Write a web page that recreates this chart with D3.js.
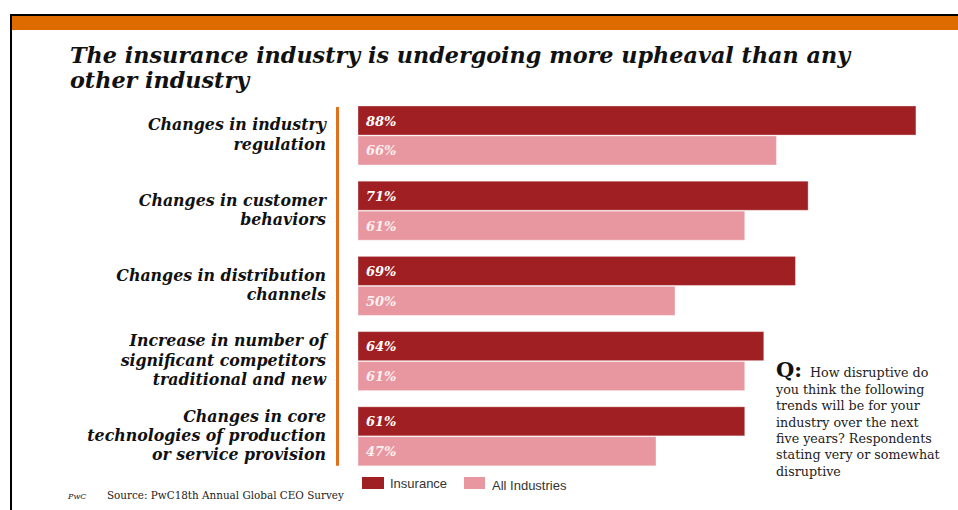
<!DOCTYPE html>
<html>
<head>
<meta charset="utf-8">
<script src="https://cdnjs.cloudflare.com/ajax/libs/d3/7.8.5/d3.min.js"></script>
<style>
  body { margin: 0; background: #fff; }
  svg { display: block; }
</style>
</head>
<body>
<div id="chart"></div>
<script>
// data
var categories = ["regulation", "customer", "distribution", "competitors", "technology"];
var categoryLines = [
    ["Changes in industry", "regulation"],
    ["Changes in customer", "behaviors"],
    ["Changes in distribution", "channels"],
    ["Increase in number of", "significant competitors", "traditional and new"],
    ["Changes in core", "technologies of production", "or service provision"]
];
var series = ["Insurance", "All Industries"];
var insurance = [88, 71, 69, 64, 61];
var allIndustries = [66, 61, 50, 61, 47];
var titleLines = ["The insurance industry is undergoing more upheaval than any", "other industry"];
var questionLines = ["you think the following", "trends will be for your", "industry over the next",
    "five years? Respondents", "stating very or somewhat", "disruptive"];

var width = 958;
var height = 510;
var colors = { "Insurance": "#a01f22", "All Industries": "#e897a0" };
var serif = "'DejaVu Serif', 'Liberation Serif', serif";

var svg = d3.select('#chart')
    .append('svg')
    .attr('width', width)
    .attr('height', height);

// frame: black rule, orange band, left edge
svg.append('rect').attr('x', 10).attr('y', 14).attr('width', width - 10).attr('height', 2).attr('fill', '#000');
svg.append('rect').attr('x', 12).attr('y', 16).attr('width', width - 12).attr('height', 14).attr('fill', '#dd6b00');
svg.append('rect').attr('x', 10).attr('y', 14).attr('width', 2).attr('height', height - 14).attr('fill', '#000');

// title
svg.append('g').selectAll('text')
    .data(titleLines)
    .enter()
    .append('text')
    .attr('x', 70)
    .attr('y', (d, i) => 63 + i * 25)
    .attr('font-family', serif)
    .attr('font-style', 'italic')
    .attr('font-weight', 'bold')
    .attr('font-size', 22.3)
    .attr('fill', '#111')
    .text(d => d);

var x = d3.scaleLinear()
    .domain([0, 100])
    .range([358, 992]);

var y = d3.scaleBand()
    .domain(categories)
    .range([106, 482]);

var ySub = d3.scaleBand()
    .domain(series)
    .range([0, 59])
    .paddingInner(0.03);

var rows = categories.map(function (c, i) {
    return { cat: c, lines: categoryLines[i], values: [
        { key: "Insurance", v: insurance[i] },
        { key: "All Industries", v: allIndustries[i] }
    ] };
});

// orange axis line
svg.append('line')
    .attr('x1', 337.5).attr('x2', 337.5)
    .attr('y1', y(categories[0]) + 1)
    .attr('y2', y(categories[categories.length - 1]) + 59)
    .attr('stroke', '#e0711d')
    .attr('stroke-width', 3);

var groups = svg.append('g').selectAll('g')
    .data(rows)
    .enter()
    .append('g')
    .attr('transform', d => "translate(0," + y(d.cat) + ")");

groups.selectAll('rect')
    .data(d => d.values)
    .enter()
    .append('rect')
    .attr('x', x(0))
    .attr('y', d => ySub(d.key))
    .attr('width', d => x(d.v) - x(0))
    .attr('height', ySub.bandwidth())
    .attr('fill', d => colors[d.key])
    .attr('stroke', 'rgba(255,255,255,0.35)')
    .attr('stroke-width', 1);

groups.selectAll('text.val')
    .data(d => d.values)
    .enter()
    .append('text')
    .attr('class', 'val')
    .attr('x', x(0) + 8)
    .attr('y', d => ySub(d.key) + ySub.bandwidth() / 2 + 5)
    .attr('font-family', serif)
    .attr('font-style', 'italic')
    .attr('font-weight', 'bold')
    .attr('font-size', 13)
    .attr('fill', d => d.key == "Insurance" ? '#fff' : '#fdf0f1')
    .text(d => d.v + "%");

// category labels
groups.each(function (d) {
    var n = d.lines.length;
    d3.select(this).selectAll('text.cat')
        .data(d.lines)
        .enter()
        .append('text')
        .attr('class', 'cat')
        .attr('x', 326)
        .attr('y', (t, i) => 29.5 + 4.5 + (i - (n - 1) / 2) * 19.3)
        .attr('text-anchor', 'end')
        .attr('font-family', serif)
        .attr('font-style', 'italic')
        .attr('font-weight', 'bold')
        .attr('font-size', 15.8)
        .attr('fill', '#111')
        .text(t => t);
});

// legend
var legend = svg.append('g').selectAll('g')
    .data(series)
    .enter()
    .append('g')
    .attr('transform', (d, i) => "translate(" + (i == 0 ? 362 : 464) + ",477)");
legend.append('rect')
    .attr('width', (d, i) => i == 0 ? 22 : 21)
    .attr('height', 12)
    .attr('fill', d => colors[d]);
legend.append('text')
    .attr('x', 28)
    .attr('y', (d, i) => i == 0 ? 11 : 13)
    .attr('font-family', "'Liberation Sans', Arial, sans-serif")
    .attr('font-size', 13)
    .attr('fill', '#333')
    .text(d => d);

// question box
var q = svg.append('g').attr('transform', "translate(776,0)");
q.append('text')
    .attr('x', 0).attr('y', 377)
    .attr('font-family', serif)
    .attr('font-weight', 'bold')
    .attr('font-size', 21)
    .attr('fill', '#111')
    .text("Q:");
q.append('text')
    .attr('x', 34).attr('y', 377)
    .attr('font-family', serif)
    .attr('font-size', 12.7)
    .attr('fill', '#222')
    .text("How disruptive do");
q.selectAll('text.ql')
    .data(questionLines)
    .enter()
    .append('text')
    .attr('class', 'ql')
    .attr('x', 0)
    .attr('y', (d, i) => 394 + i * 16.3)
    .attr('font-family', serif)
    .attr('font-size', 12.7)
    .attr('fill', '#222')
    .text(d => d);

// footer
svg.append('text')
    .attr('x', 68).attr('y', 499)
    .attr('font-family', serif)
    .attr('font-style', 'italic')
    .attr('font-size', 8)
    .attr('fill', '#222')
    .text("PwC");
svg.append('text')
    .attr('x', 107).attr('y', 499)
    .attr('font-family', serif)
    .attr('font-size', 10.4)
    .attr('fill', '#222')
    .text("Source: PwC18th Annual Global CEO Survey");
</script>
</body>
</html>
